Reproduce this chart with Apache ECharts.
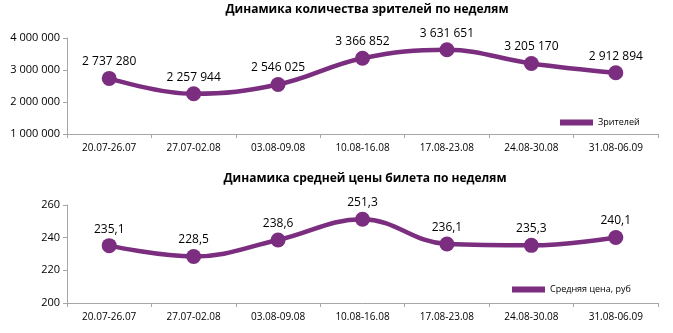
<!DOCTYPE html>
<html>
<head>
<meta charset="utf-8">
<script src="https://cdn.jsdelivr.net/npm/echarts@6/dist/echarts.min.js"></script>
<style>
html,body{margin:0;padding:0;background:#fff;}
#chart{width:673px;height:333px;}
</style>
</head>
<body>
<div id="chart"></div>
<script>
// Weekly periods
const weeks = ['20.07-26.07','27.07-02.08','03.08-09.08','10.08-16.08','17.08-23.08','24.08-30.08','31.08-06.09'];
// Viewers per week
const viewers = [2737280, 2257944, 2546025, 3366852, 3631651, 3205170, 2912894];
// Average ticket price per week, rub
const avgPrice = [235.1, 228.5, 238.6, 251.3, 236.1, 235.3, 240.1];

const viewersTicks = [1000000, 2000000, 3000000, 4000000];
const priceTicks = [200, 220, 240, 260];

const PURPLE = '#7b2d7f';
const FONT = 'Open Sans';
const AXIS_GRAY = '#a6a6a6';

function spaced(n) {
  return String(Math.round(n)).replace(/\B(?=(\d{3})+(?!\d))/g, ' ');
}
function commaDec(n) {
  return n.toFixed(1).replace('.', ',');
}

const chart = echarts.init(document.getElementById('chart'), null, {renderer: 'canvas'});

function xAxis(gridIndex) {
  return {
    type: 'category', gridIndex, data: weeks,
    axisLine: {lineStyle: {color: AXIS_GRAY}},
    axisTick: {show: true, length: 4, lineStyle: {color: AXIS_GRAY}},
    axisLabel: {color: '#000', fontFamily: FONT, fontSize: 10, margin: 9}
  };
}
function yAxis(gridIndex, min, max, interval, fmt) {
  return {
    type: 'value', gridIndex, min, max, interval,
    axisLine: {show: true, lineStyle: {color: AXIS_GRAY}},
    axisTick: {show: true, length: 4, lineStyle: {color: AXIS_GRAY}},
    splitLine: {show: false},
    axisLabel: {color: '#000', fontFamily: FONT, fontSize: 11, margin: 7, formatter: fmt}
  };
}

chart.setOption({
  animation: false,
  title: [
    {text: 'Динамика количества зрителей по неделям', left: 362, top: -1, textAlign: 'center',
     textStyle: {fontFamily: FONT, fontSize: 12, fontWeight: 'bold', color: '#000'}},
    {text: 'Динамика средней цены билета по неделям', left: 360, top: 168, textAlign: 'center',
     textStyle: {fontFamily: FONT, fontSize: 12, fontWeight: 'bold', color: '#000'}}
  ],
  legend: [
    {data: ['Зрителей'], left: 555, top: 113, icon: 'rect', itemWidth: 33, itemHeight: 6,
     itemGap: 6, textStyle: {fontFamily: FONT, fontSize: 9, color: '#000'}},
    {data: ['Средняя цена, руб'], left: 507, top: 280, icon: 'rect', itemWidth: 33, itemHeight: 6,
     itemGap: 6, textStyle: {fontFamily: FONT, fontSize: 9, color: '#000'}}
  ],
  grid: [
    {left: 67, right: 15, top: 38, bottom: 199},
    {left: 67, right: 15, top: 205, bottom: 30}
  ],
  xAxis: [xAxis(0), xAxis(1)],
  yAxis: [
    yAxis(0, viewersTicks[0], viewersTicks[viewersTicks.length - 1], 1000000, v => spaced(v)),
    yAxis(1, priceTicks[0], priceTicks[priceTicks.length - 1], 20, v => String(v))
  ],
  series: [
    {name: 'Зрителей', type: 'line', xAxisIndex: 0, yAxisIndex: 0, data: viewers,
     smooth: 0.4, symbol: 'circle', symbolSize: 15, color: PURPLE,
     lineStyle: {width: 4.5, color: PURPLE}, itemStyle: {color: PURPLE},
     label: {show: true, position: 'top', distance: 3, fontFamily: FONT, fontSize: 12, color: '#000',
             formatter: p => spaced(p.value)}},
    {name: 'Средняя цена, руб', type: 'line', xAxisIndex: 1, yAxisIndex: 1, data: avgPrice,
     smooth: 0.4, symbol: 'circle', symbolSize: 15, color: PURPLE,
     lineStyle: {width: 4.5, color: PURPLE}, itemStyle: {color: PURPLE},
     label: {show: true, position: 'top', distance: 3, fontFamily: FONT, fontSize: 12, color: '#000',
             formatter: p => commaDec(p.value)}}
  ]
});
</script>
</body>
</html>
